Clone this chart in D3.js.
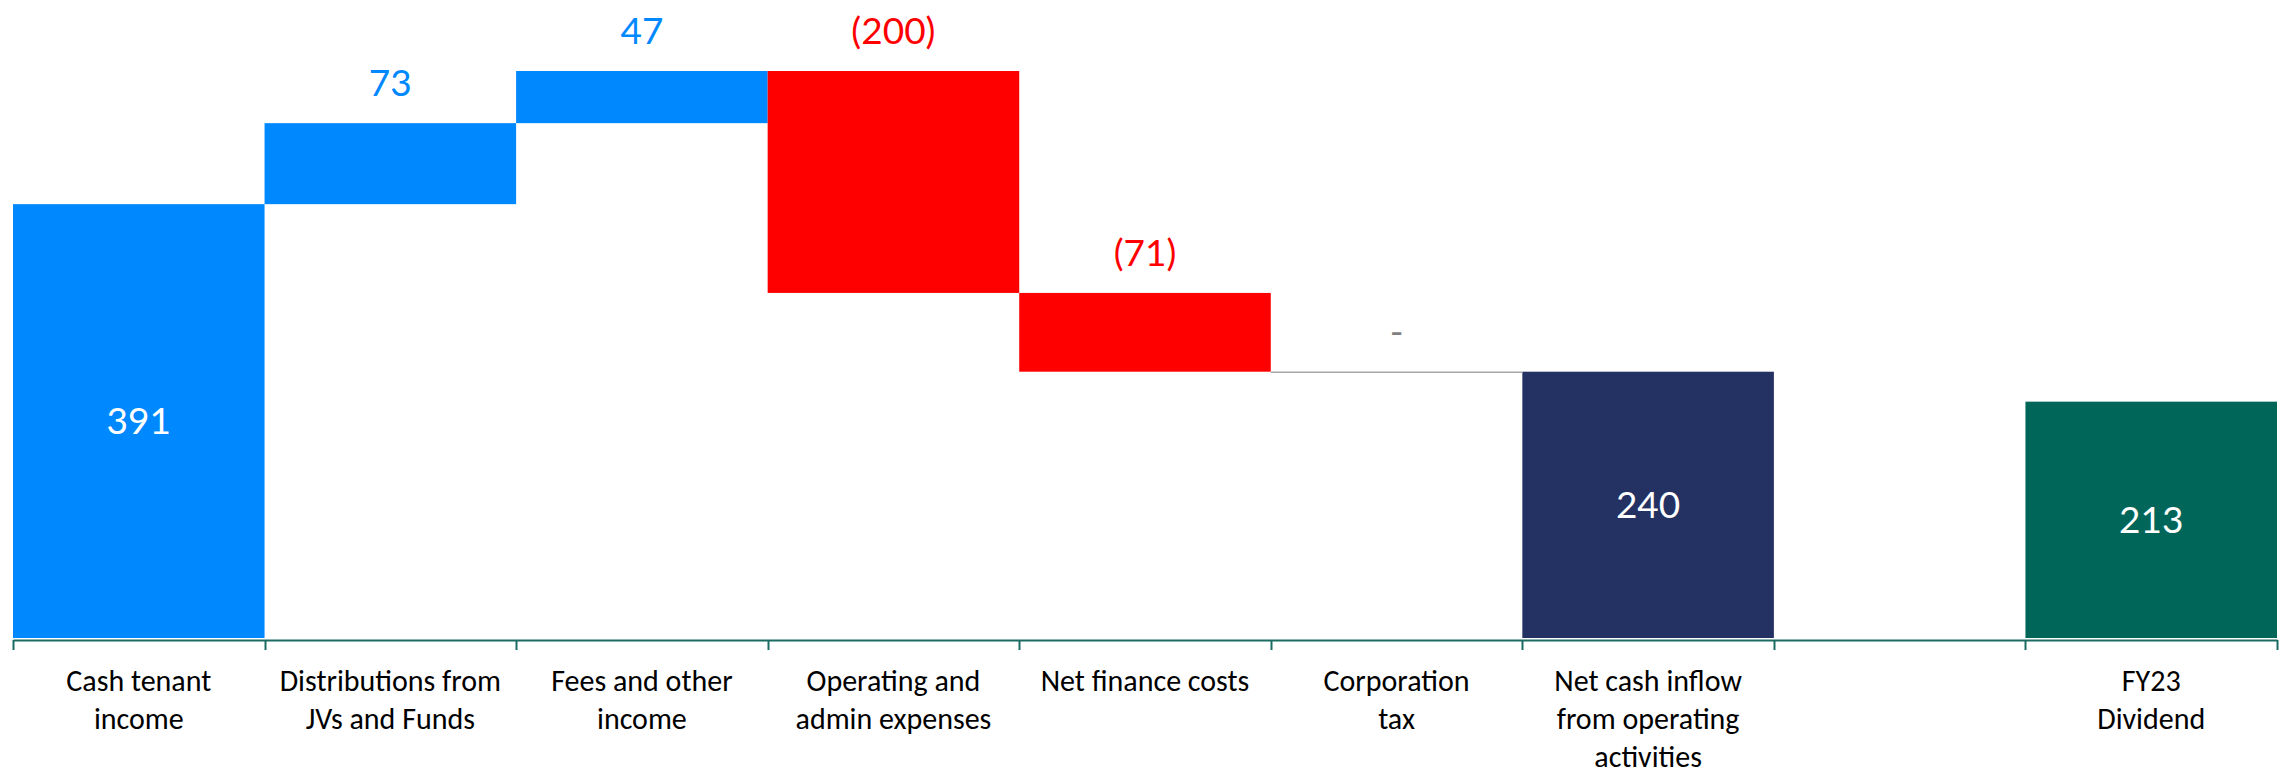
<!DOCTYPE html>
<html>
<head>
<meta charset="utf-8">
<script src="https://cdn.jsdelivr.net/npm/d3@7"></script>
<style>
  html, body { margin: 0; padding: 0; background: #ffffff; }
  svg { display: block; }
</style>
</head>
<body>
<svg id="chart" width="2280" height="775"></svg>
<script>
// Cash flow bridge, £m
const categories = [
  "cash_tenant", "distributions", "fees", "opex", "finance",
  "tax", "net_cash", "spacer", "dividend"
];
const categoryLabels = [
  ["Cash tenant", "income"],
  ["Distributions from", "JVs and Funds"],
  ["Fees and other", "income"],
  ["Operating and", "admin expenses"],
  ["Net finance costs"],
  ["Corporation", "tax"],
  ["Net cash inflow", "from operating", "activities"],
  [],
  ["FY23", "Dividend"]
];
const values = [391, 73, 47, -200, -71, 0, 240, null, 213];
const kinds  = ["total", "step", "step", "step", "step", "step", "total", "gap", "total"];

const colors = {
  up: "#0088ff",
  down: "#ff0000",
  flat: "#a6a6a6",
  cash_tenant: "#0088ff",
  net_cash: "#233263",
  dividend: "#00665a",
  axis: "#1a6b62"
};

const svg = d3.select("#chart");

const x = d3.scaleBand().domain(categories).range([13, 2277]).padding(0);
const y = d3.scaleLinear().domain([0, 575]).range([638, 0]);

// Running totals for the bridge
let running = 0;
const bars = categories.map((c, i) => {
  const v = values[i];
  const k = kinds[i];
  if (k === "gap") return null;
  let start, end;
  if (k === "total") { start = 0; end = v; running = v; }
  else { start = running; end = running + v; running = end; }
  return { key: c, i, value: v, kind: k, lo: Math.min(start, end), hi: Math.max(start, end) };
}).filter(d => d);

function fill(d) {
  if (d.kind === "total") return colors[d.key];
  return d.value > 0 ? colors.up : d.value < 0 ? colors.down : colors.flat;
}
function fmt(v) {
  if (v === 0) return "-";
  return v < 0 ? "(" + Math.abs(v) + ")" : String(v);
}

// Bars
svg.append("g").selectAll("rect")
  .data(bars.filter(d => d.value !== 0))
  .join("rect")
  .attr("x", d => x(d.key))
  .attr("width", x.bandwidth())
  .attr("y", d => y(d.hi))
  .attr("height", d => y(d.lo) - y(d.hi))
  .attr("fill", fill);

// Zero-height step drawn as a thin level line
svg.append("g").selectAll("line")
  .data(bars.filter(d => d.value === 0))
  .join("line")
  .attr("x1", d => x(d.key))
  .attr("x2", d => x(d.key) + x.bandwidth())
  .attr("y1", d => y(d.hi) + 0.5)
  .attr("y2", d => y(d.hi) + 0.5)
  .attr("stroke", colors.flat)
  .attr("stroke-width", 1.5);

const numFont = "Lato, 'Century Gothic', 'Open Sans', sans-serif";

// Step labels above the bars
svg.append("g").selectAll("text")
  .data(bars.filter(d => d.kind === "step"))
  .join("text")
  .attr("x", d => x(d.key) + x.bandwidth() / 2)
  .attr("y", d => y(d.hi) - 27)
  .attr("text-anchor", "middle")
  .attr("font-family", numFont)
  .attr("font-size", 37)
  .attr("fill", d => d.value > 0 ? colors.up : d.value < 0 ? colors.down : "#7f7f7f")
  .text(d => fmt(d.value));

// Total labels inside the bars
svg.append("g").selectAll("text")
  .data(bars.filter(d => d.kind === "total"))
  .join("text")
  .attr("x", d => x(d.key) + x.bandwidth() / 2)
  .attr("y", d => (y(d.hi) + y(d.lo)) / 2)
  .attr("dy", "0.36em")
  .attr("text-anchor", "middle")
  .attr("font-family", numFont)
  .attr("font-size", 37)
  .attr("fill", "#ffffff")
  .text(d => fmt(d.value));

// Category axis
const axis = d3.axisBottom(x).tickSize(0).tickPadding(0).tickFormat("");
const gAxis = svg.append("g")
  .attr("transform", "translate(0,640)")
  .call(axis);
gAxis.select(".domain")
  .attr("stroke", colors.axis)
  .attr("stroke-width", 2);

// Tick marks sit between categories
const edges = categories.map(c => x(c)).concat([x(categories[categories.length - 1]) + x.bandwidth()]);
gAxis.selectAll(".edge")
  .data(edges)
  .join("line")
  .attr("class", "edge")
  .attr("x1", d => Math.round(d) + 0.5)
  .attr("x2", d => Math.round(d) + 0.5)
  .attr("y1", 0)
  .attr("y2", 10)
  .attr("stroke", colors.axis)
  .attr("stroke-width", 2);

// Wrapped category labels
const labels = gAxis.selectAll(".tick text")
  .attr("font-family", "Carlito, Calibri, 'Liberation Sans Narrow', 'Open Sans', sans-serif")
  .attr("font-size", 30)
  .attr("fill", "#000000")
  .attr("y", 51)
  .attr("dy", 0);
labels.each(function(d) {
  const lines = categoryLabels[categories.indexOf(d)];
  const t = d3.select(this);
  t.selectAll("tspan")
    .data(lines)
    .join("tspan")
    .attr("x", 0)
    .attr("y", (l, j) => 51 + j * 38)
    .text(l => l);
});
</script>
</body>
</html>
